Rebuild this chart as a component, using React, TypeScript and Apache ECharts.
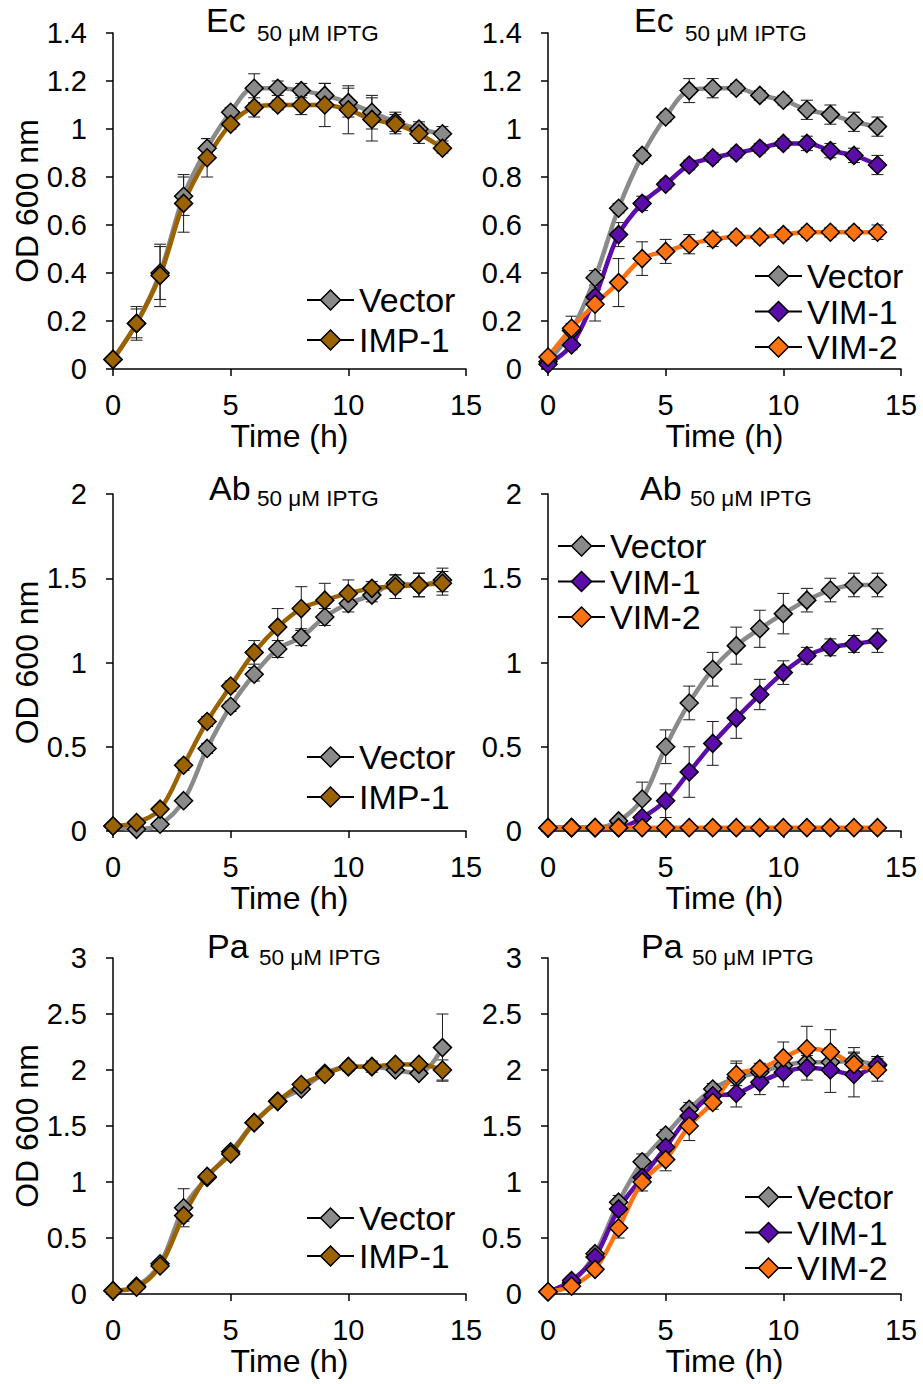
import React, { useEffect, useRef } from "react";
import * as echarts from "echarts";

// ---------- data ----------
const hours = [0, 1, 2, 3, 4, 5, 6, 7, 8, 9, 10, 11, 12, 13, 14];

// Ec (left)
const ecVector = [0.04, 0.19, 0.40, 0.72, 0.92, 1.07, 1.17, 1.17, 1.16, 1.14, 1.11, 1.07, 1.03, 1.00, 0.98];
const ecVectorErr = [0.01, 0.07, 0.11, 0.08, 0.04, 0.02, 0.06, 0.03, 0.03, 0.05, 0.06, 0.07, 0.04, 0.03, 0.03];
const ecIMP1 = [0.04, 0.19, 0.39, 0.69, 0.88, 1.02, 1.09, 1.10, 1.10, 1.10, 1.08, 1.04, 1.02, 0.98, 0.92];
const ecIMP1Err = [0.01, 0.06, 0.13, 0.12, 0.08, 0.02, 0.04, 0.02, 0.04, 0.09, 0.10, 0.09, 0.04, 0.04, 0.02];

// Ec (right)
const ec2Vector = [0.03, 0.16, 0.38, 0.67, 0.89, 1.05, 1.16, 1.17, 1.17, 1.14, 1.12, 1.08, 1.06, 1.03, 1.01];
const ec2VectorErr = [0.01, 0.03, 0.03, 0.02, 0.02, 0.02, 0.05, 0.04, 0.02, 0.02, 0.02, 0.04, 0.04, 0.04, 0.04];
const ec2VIM1 = [0.02, 0.10, 0.30, 0.56, 0.69, 0.77, 0.85, 0.88, 0.90, 0.92, 0.94, 0.94, 0.91, 0.89, 0.85];
const ec2VIM1Err = [0.01, 0.02, 0.03, 0.05, 0.03, 0.02, 0.02, 0.02, 0.02, 0.02, 0.02, 0.03, 0.03, 0.03, 0.04];
const ec2VIM2 = [0.05, 0.17, 0.27, 0.36, 0.46, 0.49, 0.52, 0.54, 0.55, 0.55, 0.56, 0.57, 0.57, 0.57, 0.57];
const ec2VIM2Err = [0.01, 0.05, 0.07, 0.10, 0.07, 0.05, 0.04, 0.03, 0.02, 0.02, 0.02, 0.02, 0.02, 0.02, 0.03];

// Ab (left)
const abVector = [0.03, 0.01, 0.04, 0.18, 0.49, 0.74, 0.93, 1.08, 1.15, 1.27, 1.35, 1.40, 1.47, 1.46, 1.49];
const abVectorErr = [0.01, 0.01, 0.01, 0.02, 0.03, 0.03, 0.04, 0.05, 0.05, 0.05, 0.05, 0.04, 0.05, 0.07, 0.07];
const abIMP1 = [0.03, 0.05, 0.13, 0.39, 0.65, 0.86, 1.06, 1.21, 1.32, 1.37, 1.41, 1.44, 1.45, 1.46, 1.47];
const abIMP1Err = [0.01, 0.01, 0.02, 0.03, 0.03, 0.03, 0.07, 0.11, 0.13, 0.10, 0.08, 0.04, 0.07, 0.07, 0.07];

// Ab (right)
const ab2Vector = [0.02, 0.02, 0.02, 0.06, 0.19, 0.50, 0.76, 0.96, 1.10, 1.20, 1.29, 1.37, 1.43, 1.46, 1.46];
const ab2VectorErr = [0.01, 0.01, 0.01, 0.02, 0.10, 0.10, 0.10, 0.10, 0.11, 0.11, 0.12, 0.07, 0.07, 0.07, 0.07];
const ab2VIM1 = [0.02, 0.02, 0.02, 0.02, 0.08, 0.18, 0.35, 0.52, 0.67, 0.81, 0.94, 1.04, 1.09, 1.11, 1.13];
const ab2VIM1Err = [0.01, 0.01, 0.01, 0.01, 0.02, 0.10, 0.15, 0.13, 0.12, 0.09, 0.07, 0.05, 0.05, 0.05, 0.07];
const ab2VIM2 = [0.02, 0.02, 0.02, 0.02, 0.02, 0.02, 0.02, 0.02, 0.02, 0.02, 0.02, 0.02, 0.02, 0.02, 0.02];
const ab2VIM2Err = [0.01, 0.01, 0.01, 0.01, 0.01, 0.01, 0.01, 0.01, 0.01, 0.01, 0.01, 0.01, 0.01, 0.01, 0.01];

// Pa (left)
const paVector = [0.03, 0.07, 0.27, 0.77, 1.04, 1.27, 1.53, 1.72, 1.83, 1.97, 2.03, 2.03, 2.00, 1.97, 2.20];
const paVectorErr = [0.01, 0.02, 0.03, 0.17, 0.03, 0.03, 0.03, 0.03, 0.03, 0.03, 0.04, 0.05, 0.03, 0.03, 0.30];
const paIMP1 = [0.03, 0.06, 0.25, 0.70, 1.05, 1.25, 1.53, 1.72, 1.87, 1.96, 2.03, 2.03, 2.05, 2.05, 2.00];
const paIMP1Err = [0.01, 0.02, 0.03, 0.05, 0.03, 0.03, 0.03, 0.03, 0.03, 0.03, 0.03, 0.03, 0.03, 0.03, 0.09];

// Pa (right)
const pa2Vector = [0.02, 0.10, 0.36, 0.82, 1.18, 1.42, 1.65, 1.83, 1.93, 1.98, 2.04, 2.07, 2.07, 2.08, 2.04];
const pa2VectorErr = [0.01, 0.03, 0.04, 0.06, 0.07, 0.05, 0.06, 0.05, 0.15, 0.05, 0.06, 0.08, 0.10, 0.12, 0.08];
const pa2VIM1 = [0.02, 0.12, 0.33, 0.76, 1.04, 1.31, 1.59, 1.77, 1.79, 1.89, 1.98, 2.02, 2.00, 1.96, 2.05];
const pa2VIM1Err = [0.01, 0.03, 0.04, 0.05, 0.06, 0.06, 0.07, 0.06, 0.12, 0.11, 0.13, 0.11, 0.20, 0.20, 0.07];
const pa2VIM2 = [0.02, 0.07, 0.22, 0.59, 1.00, 1.20, 1.50, 1.71, 1.96, 2.01, 2.11, 2.19, 2.16, 2.05, 2.00];
const pa2VIM2Err = [0.01, 0.02, 0.03, 0.09, 0.08, 0.10, 0.13, 0.06, 0.10, 0.05, 0.14, 0.20, 0.20, 0.10, 0.10];

const xTicks = { min: 0, max: 15, interval: 5 };
const subTitle = "50 μM IPTG";
const xName = "Time (h)";
const yName = "OD 600 nm";

// ---------- styles / layout ----------
const FONT = "'Liberation Sans', Arial, Helvetica, sans-serif";
const COLORS: Record<string, string> = {
  Vector: "#8a8a8a",
  "IMP-1": "#9a6200",
  "VIM-1": "#5c0ca8",
  "VIM-2": "#ff7212",
};

type SeriesDef = { name: string; values: number[]; err: number[] };
type Panel = {
  title: string;
  yMax: number;
  yInterval: number;
  series: SeriesDef[];
  grid: { left: number; top: number; width: number; height: number };
  showYName: boolean;
  legend: { left: number; top: number; gap: number };
  titlePos: { x: number; y: number; subX: number; subY: number };
};

const panels: Panel[] = [
  {
    title: "Ec", yMax: 1.4, yInterval: 0.2,
    series: [
      { name: "Vector", values: ecVector, err: ecVectorErr },
      { name: "IMP-1", values: ecIMP1, err: ecIMP1Err },
    ],
    grid: { left: 113, top: 33, width: 353, height: 336 },
    showYName: true,
    legend: { left: 306, top: 283, gap: 6 },
    titlePos: { x: 206, y: 20, subX: 257, subY: 33 },
  },
  {
    title: "Ec", yMax: 1.4, yInterval: 0.2,
    series: [
      { name: "Vector", values: ec2Vector, err: ec2VectorErr },
      { name: "VIM-1", values: ec2VIM1, err: ec2VIM1Err },
      { name: "VIM-2", values: ec2VIM2, err: ec2VIM2Err },
    ],
    grid: { left: 548, top: 33, width: 353, height: 336 },
    showYName: false,
    legend: { left: 754, top: 259, gap: 1.5 },
    titlePos: { x: 634, y: 20, subX: 685, subY: 33 },
  },
  {
    title: "Ab", yMax: 2, yInterval: 0.5,
    series: [
      { name: "Vector", values: abVector, err: abVectorErr },
      { name: "IMP-1", values: abIMP1, err: abIMP1Err },
    ],
    grid: { left: 113, top: 494, width: 353, height: 337 },
    showYName: true,
    legend: { left: 306, top: 740, gap: 6 },
    titlePos: { x: 209, y: 488, subX: 257, subY: 498 },
  },
  {
    title: "Ab", yMax: 2, yInterval: 0.5,
    series: [
      { name: "Vector", values: ab2Vector, err: ab2VectorErr },
      { name: "VIM-1", values: ab2VIM1, err: ab2VIM1Err },
      { name: "VIM-2", values: ab2VIM2, err: ab2VIM2Err },
    ],
    grid: { left: 548, top: 494, width: 353, height: 337 },
    showYName: false,
    legend: { left: 557, top: 529, gap: 1.5 },
    titlePos: { x: 640, y: 488, subX: 690, subY: 498 },
  },
  {
    title: "Pa", yMax: 3, yInterval: 0.5,
    series: [
      { name: "Vector", values: paVector, err: paVectorErr },
      { name: "IMP-1", values: paIMP1, err: paIMP1Err },
    ],
    grid: { left: 113, top: 958, width: 353, height: 336 },
    showYName: true,
    legend: { left: 306, top: 1201, gap: 4 },
    titlePos: { x: 207, y: 946, subX: 259, subY: 957 },
  },
  {
    title: "Pa", yMax: 3, yInterval: 0.5,
    series: [
      { name: "Vector", values: pa2Vector, err: pa2VectorErr },
      { name: "VIM-1", values: pa2VIM1, err: pa2VIM1Err },
      { name: "VIM-2", values: pa2VIM2, err: pa2VIM2Err },
    ],
    grid: { left: 548, top: 958, width: 353, height: 336 },
    showYName: false,
    legend: { left: 744, top: 1180, gap: 1.5 },
    titlePos: { x: 641, y: 946, subX: 692, subY: 957 },
  },
];

function buildOption() {
  const grid: any[] = [];
  const xAxis: any[] = [];
  const yAxis: any[] = [];
  const series: any[] = [];
  const legend: any[] = [];
  const graphic: any[] = [];

  panels.forEach((p, i) => {
    grid.push({ ...p.grid, containLabel: false });
    xAxis.push({
      type: "value",
      gridIndex: i,
      min: xTicks.min,
      max: xTicks.max,
      interval: xTicks.interval,
      name: xName,
      nameLocation: "middle",
      nameGap: 48,
      nameTextStyle: { fontSize: 32, color: "#000", fontFamily: FONT },
      axisLine: { show: true, onZero: false, lineStyle: { color: "#000", width: 1.5 } },
      axisTick: { show: true, inside: false, length: 7, lineStyle: { color: "#000", width: 1.5 } },
      axisLabel: { fontSize: 29, color: "#000", fontFamily: FONT, margin: 21 },
      splitLine: { show: false },
    });
    yAxis.push({
      type: "value",
      gridIndex: i,
      min: 0,
      max: p.yMax,
      interval: p.yInterval,
      name: p.showYName ? yName : "",
      nameLocation: "middle",
      nameGap: 70,
      nameTextStyle: { fontSize: 32, color: "#000", fontFamily: FONT },
      axisLine: { show: true, lineStyle: { color: "#000", width: 1.5 } },
      axisTick: { show: true, inside: false, length: 7, lineStyle: { color: "#000", width: 1.5 } },
      axisLabel: { fontSize: 29, color: "#000", fontFamily: FONT, margin: 26 },
      splitLine: { show: false },
    });

    p.series.forEach((s) => {
      series.push({
        type: "custom",
        xAxisIndex: i,
        yAxisIndex: i,
        silent: true,
        z: 2,
        data: s.values.map((v, k) => [hours[k], v - s.err[k], v + s.err[k]]),
        renderItem: (params: any, api: any) => {
          const x = api.value(0);
          const lo = api.coord([x, api.value(1)]);
          const hi = api.coord([x, api.value(2)]);
          const w = 6;
          const st = { stroke: "#1a1a1a", lineWidth: 1 };
          return {
            type: "group",
            children: [
              { type: "line", shape: { x1: lo[0], y1: lo[1], x2: hi[0], y2: hi[1] }, style: st },
              { type: "line", shape: { x1: hi[0] - w, y1: hi[1], x2: hi[0] + w, y2: hi[1] }, style: st },
              { type: "line", shape: { x1: lo[0] - w, y1: lo[1], x2: lo[0] + w, y2: lo[1] }, style: st },
            ],
          };
        },
      });
    });
    p.series.forEach((s) => {
      series.push({
        type: "line",
        name: s.name,
        xAxisIndex: i,
        yAxisIndex: i,
        z: 3,
        smooth: 0.35,
        data: s.values.map((v, k) => [hours[k], v]),
        symbol: "diamond",
        symbolSize: 18,
        showSymbol: true,
        lineStyle: { color: COLORS[s.name], width: 4.5 },
        itemStyle: { color: COLORS[s.name], borderColor: "#000", borderWidth: 1.5 },
      });
    });

    legend.push({
      show: true,
      orient: "vertical",
      left: p.legend.left,
      top: p.legend.top,
      itemGap: p.legend.gap,
      itemWidth: 47,
      itemHeight: 25,
      padding: 0,
      selectedMode: false,
      data: p.series.map((s) => s.name),
      textStyle: { fontSize: 34, color: "#000", fontFamily: FONT },
      lineStyle: { color: "#000", width: 2 },
      itemStyle: { borderColor: "#000", borderWidth: 1.5 },
    });

    graphic.push({
      type: "text",
      x: p.titlePos.x,
      y: p.titlePos.y,
      style: {
        text: p.title,
        fontSize: 34,
        fontFamily: FONT,
        fill: "#000",
        textAlign: "left",
        textVerticalAlign: "middle",
        align: "left",
        verticalAlign: "middle",
      },
    });
    graphic.push({
      type: "text",
      x: p.titlePos.subX,
      y: p.titlePos.subY,
      style: {
        text: subTitle,
        fontSize: 22.5,
        fontFamily: FONT,
        fill: "#000",
        textAlign: "left",
        textVerticalAlign: "middle",
        align: "left",
        verticalAlign: "middle",
      },
    });
  });

  return {
    animation: false,
    backgroundColor: "#fff",
    textStyle: { fontFamily: FONT },
    grid,
    xAxis,
    yAxis,
    series,
    legend,
    graphic,
  };
}

export default function App() {
  const ref = useRef<HTMLDivElement>(null);
  useEffect(() => {
    if (!ref.current) return;
    const chart = echarts.init(ref.current, undefined, { renderer: "svg" });
    chart.setOption(buildOption() as any);
    return () => chart.dispose();
  }, []);
  return (
    <div
      ref={ref}
      style={{ position: "absolute", left: 0, top: 0, width: 923, height: 1384, background: "#fff" }}
    />
  );
}
